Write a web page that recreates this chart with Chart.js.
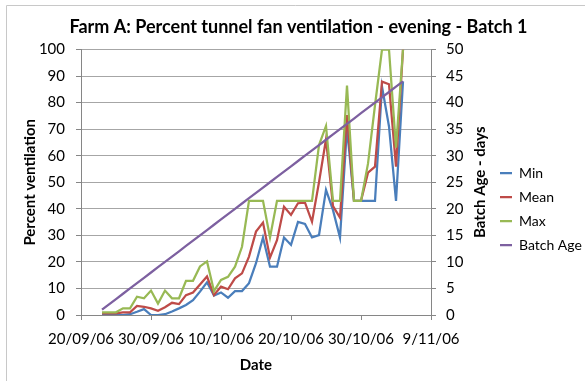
<!DOCTYPE html>
<html>
<head>
<meta charset="utf-8">
<script src="https://cdn.jsdelivr.net/npm/chart.js@4.4.1/dist/chart.umd.min.js"></script>
<style>
  html, body { margin: 0; padding: 0; background: #ffffff; }
  canvas { display: block; }
</style>
</head>
<body>
<canvas id="chart" width="585" height="381"></canvas>
<script>
const dates = [
  "23/09/06", "24/09/06", "25/09/06", "26/09/06", "27/09/06", "28/09/06", "29/09/06", "30/09/06",
  "01/10/06", "02/10/06", "03/10/06", "04/10/06", "05/10/06", "06/10/06", "07/10/06", "08/10/06",
  "09/10/06", "10/10/06", "11/10/06", "12/10/06", "13/10/06", "14/10/06", "15/10/06", "16/10/06",
  "17/10/06", "18/10/06", "19/10/06", "20/10/06", "21/10/06", "22/10/06", "23/10/06", "24/10/06",
  "25/10/06", "26/10/06", "27/10/06", "28/10/06", "29/10/06", "30/10/06", "31/10/06",
  "01/11/06", "02/11/06", "03/11/06", "04/11/06", "05/11/06"
];
const tickLabels = ["20/09/06", "30/09/06", "10/10/06", "20/10/06", "30/10/06", "9/11/06"];

const minVals = [0, 0, 0, 0, 0.3, 1.2, 2.2, 0, 0, 0.3, 1.3, 2.5, 3.8, 5.6, 8.8, 12.3, 7.3, 8.5, 6.5, 9, 9, 12,
  19.5, 29.2, 18.2, 18.2, 29.2, 26.4, 35.1, 34.3, 29.2, 30.1, 47.1, 39.5, 29.2, 70.5, 43, 43, 43, 43, 86, 71, 43, 88];
const meanVals = [0.6, 0.6, 0.6, 1, 1, 3.4, 3.1, 2.5, 1.6, 2.9, 4.6, 4.1, 7.5, 8.5, 11.5, 14.5, 7.5, 10.7, 9.7, 13.8,
  15.7, 22, 31.4, 34.8, 21.6, 28.2, 40.8, 37.7, 42.1, 42.3, 35.1, 50, 66.2, 41, 36.7, 75.3, 43, 43, 53.6, 55.9,
  87.9, 86.9, 55.9, 100];
const maxVals = [1, 1, 1, 2.5, 2.5, 6.9, 6.3, 9.2, 4.3, 9.2, 6.3, 6.3, 12.9, 12.9, 18.3, 20.2, 9, 13.2, 14.4, 18.2,
  25.7, 43, 43, 43, 29.2, 43, 43, 43, 43, 43, 43, 64, 71.2, 43, 43, 86.4, 43, 43, 57, 79, 100, 100, 63, 100];
const batchAge = [1, 2, 3, 4, 5, 6, 7, 8, 9, 10, 11, 12, 13, 14, 15, 16, 17, 18, 19, 20, 21, 22,
  23, 24, 25, 26, 27, 28, 29, 30, 31, 32, 33, 34, 35, 36, 37, 38, 39, 40, 41, 42, 43, 44];

// days since the first axis date, so the x axis can be linear
function dayNum(s) {
  const p = s.split("/");
  return Date.UTC(2000 + Number(p[2]), Number(p[1]) - 1, Number(p[0])) / 86400000;
}
const day0 = dayNum(tickLabels[0]);
const xs = dates.map(function(d) { return dayNum(d) - day0; });

function points(vals) {
  return vals.map(function(v, i) { return { x: xs[i], y: v }; });
}

const GRID = "#a6a6a6";
const AXIS = "#868686";
const FONT = "Lato, 'Liberation Sans', sans-serif";

Chart.defaults.font.family = FONT;
Chart.defaults.color = "#000000";

function series(label, vals, color, axis, order) {
  return {
    label: label,
    data: points(vals),
    yAxisID: axis,
    borderColor: color,
    backgroundColor: color,
    borderWidth: 2.25,
    pointRadius: 0,
    tension: 0,
    fill: false,
    order: order
  };
}

// outer frame (only top and left edges show in the picture)
const framePlugin = {
  id: "frame",
  beforeDraw: function(chart) {
    const ctx = chart.ctx;
    ctx.save();
    ctx.strokeStyle = "#c8c8c8";
    ctx.lineWidth = 1;
    ctx.beginPath();
    ctx.moveTo(6.5, chart.height);
    ctx.lineTo(6.5, 5.5);
    ctx.lineTo(chart.width, 5.5);
    ctx.stroke();
    ctx.restore();
  }
};

// right axis title reads bottom-to-top like Excel, chart.js would flip it
const rightTitlePlugin = {
  id: "rightTitle",
  afterDraw: function(chart) {
    const ctx = chart.ctx;
    const area = chart.chartArea;
    ctx.save();
    ctx.translate(480, (area.top + area.bottom) / 2);
    ctx.rotate(-Math.PI / 2);
    ctx.font = "bold 15px " + FONT;
    ctx.fillStyle = "#000000";
    ctx.textAlign = "center";
    ctx.textBaseline = "middle";
    ctx.fillText("Batch Age - days", 0, 0);
    ctx.restore();
  }
};

new Chart(document.getElementById("chart").getContext("2d"), {
  type: "line",
  data: {
    datasets: [
      series("Min", minVals, "#4a7ebb", "y", 4),
      series("Mean", meanVals, "#be4b48", "y", 3),
      series("Max", maxVals, "#98b954", "y", 2),
      series("Batch Age", batchAge, "#7d60a0", "y2", 1)
    ]
  },
  options: {
    responsive: false,
    animation: false,
    layout: { padding: { left: 12, top: 0, right: 0, bottom: 0 } },
    scales: {
      x: {
        type: "linear",
        min: 0,
        max: 50,
        afterFit: function(scale) { scale.height = 66; },
        ticks: {
          stepSize: 10,
          padding: 10,
          maxRotation: 0,
          font: { size: 15 },
          callback: function(v) { return tickLabels[Math.round(v / 10)]; }
        },
        grid: { drawOnChartArea: false, drawTicks: true, tickLength: 5, color: AXIS },
        border: { color: AXIS },
        title: { display: true, text: "Date", font: { size: 15, weight: "bold" }, padding: { top: 0, bottom: 7 } }
      },
      y: {
        position: "left",
        min: 0,
        max: 100,
        afterFit: function(scale) { scale.width = 69; },
        ticks: { stepSize: 10, padding: 11, font: { size: 15 } },
        grid: { color: GRID, tickLength: 5, tickColor: AXIS },
        border: { color: AXIS },
        title: { display: true, text: "Percent ventilation", font: { size: 15, weight: "bold" }, padding: { top: 9, bottom: 0 } }
      },
      y2: {
        position: "right",
        min: 0,
        max: 50,
        afterFit: function(scale) {
          const lw = scale.chart.legend ? scale.chart.legend.width : 95;
          scale.width = scale.chart.width - 431 - lw;
        },
        ticks: { stepSize: 5, padding: 10, font: { size: 15 } },
        grid: { drawOnChartArea: false, tickLength: 5, color: AXIS },
        border: { color: AXIS }
      }
    },
    plugins: {
      title: {
        display: true,
        text: "Farm A: Percent tunnel fan ventilation - evening - Batch 1",
        font: { size: 18, weight: "bold", lineHeight: 1.2 },
        color: "#000000",
        padding: { top: 16.2, bottom: 11.7 }
      },
      legend: {
        position: "right",
        align: "center",
        maxWidth: 95,
        // empty title only pushes the items down to where Excel has them
        title: { display: true, text: "", font: { size: 37, lineHeight: 1 }, padding: 0 },
        labels: {
          boxWidth: 12,
          boxHeight: 0,
          padding: 10,
          font: { size: 14 },
          color: "#000000",
          sort: function(a, b) { return a.datasetIndex - b.datasetIndex; }
        }
      },
      tooltip: { enabled: false }
    }
  },
  plugins: [framePlugin, rightTitlePlugin]
});
</script>
</body>
</html>
